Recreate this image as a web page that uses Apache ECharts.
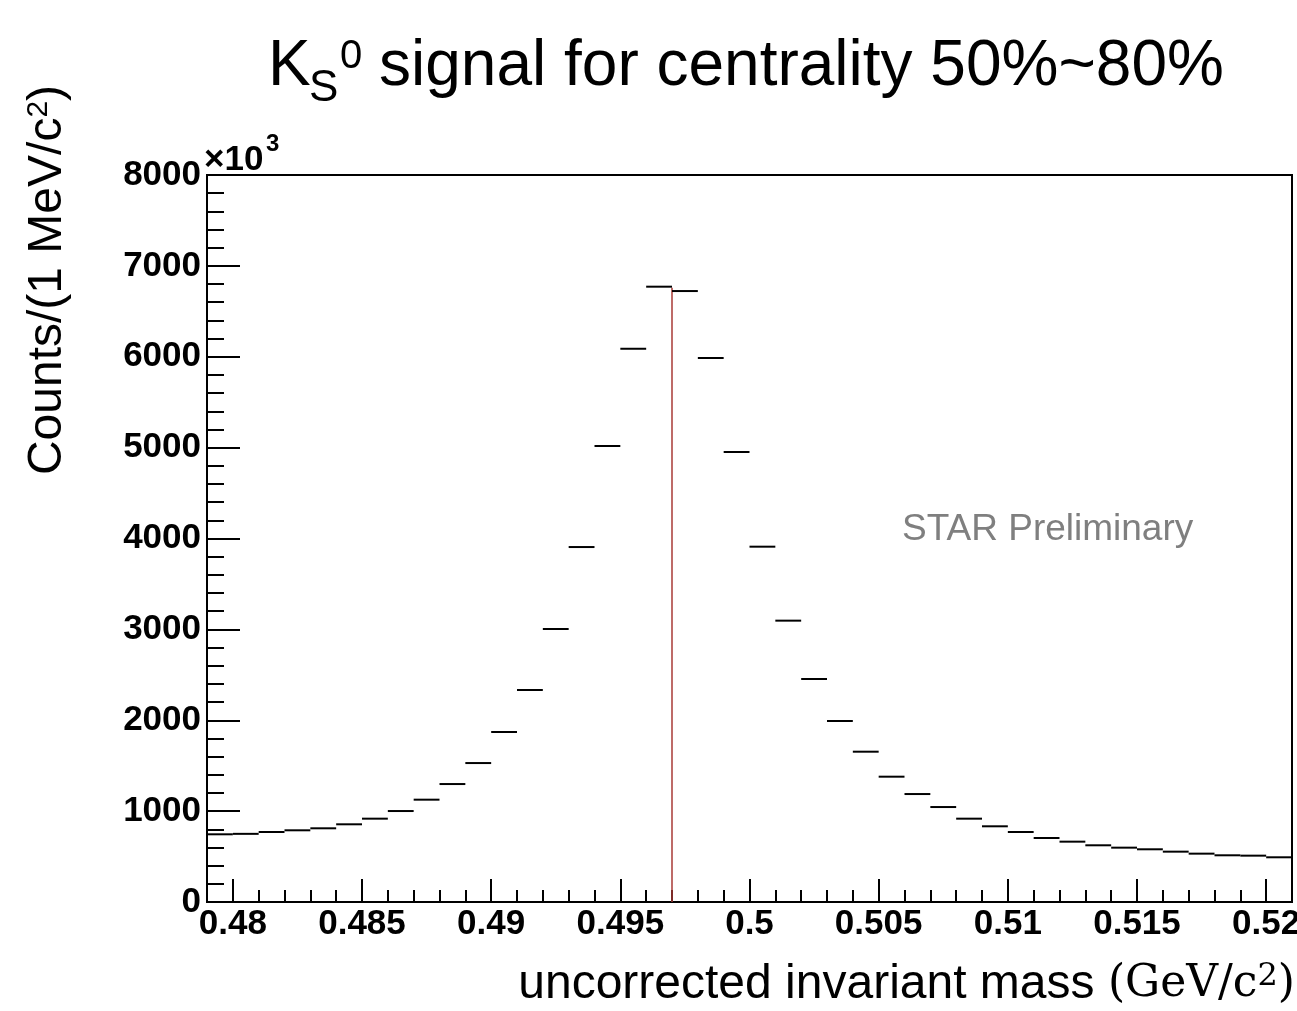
<!DOCTYPE html>
<html>
<head>
<meta charset="utf-8">
<script src="https://cdn.jsdelivr.net/npm/echarts@6/dist/echarts.min.js"></script>
<style>
html,body{margin:0;padding:0;background:#fff;}
#chart{width:1297px;height:1011px;}
</style>
</head>
<body>
<div id="chart"></div>
<script>
// Lower bin edges (GeV/c^2), 1 MeV bins
const massLow = [0.479, 0.480, 0.481, 0.482, 0.483, 0.484, 0.485, 0.486, 0.487, 0.488,
                 0.489, 0.490, 0.491, 0.492, 0.493, 0.494, 0.495, 0.496, 0.497, 0.498,
                 0.499, 0.500, 0.501, 0.502, 0.503, 0.504, 0.505, 0.506, 0.507, 0.508,
                 0.509, 0.510, 0.511, 0.512, 0.513, 0.514, 0.515, 0.516, 0.517, 0.518,
                 0.519, 0.520];
const BIN_WIDTH = 0.001;
// Counts per bin (x10^3)
const counts = [745, 750, 770, 789, 811, 855, 917, 1001, 1126, 1298,
                1529, 1871, 2333, 3004, 3906, 5018, 6088, 6771, 6723, 5986,
                4952, 3910, 3096, 2454, 1992, 1654, 1379, 1188, 1045, 917,
                833, 770, 704, 664, 624, 598, 580, 554, 532, 514,
                510, 492];
// Red reference line (mass, top value)
const peakLineMass = 0.497;
const peakLineTop = 6760;

const majorTicks = [0.48, 0.485, 0.49, 0.495, 0.5, 0.505, 0.51, 0.515, 0.52];
const majorTickLabels = ['0.48', '0.485', '0.49', '0.495', '0.5', '0.505', '0.51', '0.515', '0.52'];
const yTickValues = [0, 1000, 2000, 3000, 4000, 5000, 6000, 7000, 8000];
const yTickLabels = ['0', '1000', '2000', '3000', '4000', '5000', '6000', '7000', '8000'];

const minorTicks = [];
for (let k = 480; k <= 520; k++) {
  if (k % 5 !== 0) minorTicks.push(k / 1000);
}

const histData = massLow.map((lo, i) => [lo, +(lo + BIN_WIDTH).toFixed(3), counts[i]]);

const FONT = 'Liberation Sans, Arial, sans-serif';
const SERIF = 'DejaVu Serif, Liberation Serif, serif';

function xLabel(v) {
  for (let i = 0; i < majorTicks.length; i++) {
    if (Math.abs(majorTicks[i] - v) < 1e-9) return majorTickLabels[i];
  }
  return '';
}
function yLabel(v) {
  for (let i = 0; i < yTickValues.length; i++) {
    if (Math.abs(yTickValues[i] - v) < 1e-6) return yTickLabels[i];
  }
  return '';
}

const chart = echarts.init(document.getElementById('chart'), null, {renderer: 'canvas'});
const option = {
  animation: false,
  backgroundColor: '#fff',
  textStyle: {fontFamily: FONT},
  grid: {
    left: 207, right: 5, top: 175, bottom: 109,
    outerBoundsMode: 'none',
    containLabel: false,
    show: true, borderColor: '#000', borderWidth: 2, backgroundColor: 'transparent'
  },
  xAxis: [{
    type: 'value', min: 0.479, max: 0.521,
    position: 'bottom',
    axisLine: {show: true, onZero: false, lineStyle: {color: '#000', width: 2}},
    axisTick: {show: true, inside: true, length: 23, customValues: majorTicks, lineStyle: {color: '#000', width: 2}},
    axisLabel: {show: true, customValues: majorTicks, formatter: xLabel, color: '#000', fontSize: 35, fontWeight: 'bold', fontFamily: FONT, margin: 5, hideOverlap: false},
    splitLine: {show: false}
  }, {
    type: 'value', min: 0.479, max: 0.521,
    position: 'bottom',
    axisLine: {show: false, onZero: false},
    axisTick: {show: true, inside: true, length: 12, customValues: minorTicks, lineStyle: {color: '#000', width: 2}},
    axisLabel: {show: false},
    splitLine: {show: false}
  }],
  yAxis: {
    type: 'value', min: 0, max: 8000, interval: 1000,
    axisLine: {show: true, onZero: false, lineStyle: {color: '#000', width: 2}},
    axisTick: {show: true, inside: true, length: 33, lineStyle: {color: '#000', width: 2}},
    minorTick: {show: true, splitNumber: 5, length: 17, lineStyle: {color: '#000', width: 2}},
    axisLabel: {formatter: yLabel, color: '#000', fontSize: 35, fontWeight: 'bold', fontFamily: FONT, margin: 6},
    splitLine: {show: false},
    minorSplitLine: {show: false}
  },
  series: [{
    type: 'custom',
    xAxisIndex: 0,
    data: histData,
    encode: {x: [0, 1], y: 2},
    renderItem: function (params, api) {
      const p0 = api.coord([api.value(0), api.value(2)]);
      const p1 = api.coord([api.value(1), api.value(2)]);
      return {
        type: 'line',
        shape: {x1: p0[0], y1: p0[1], x2: p1[0], y2: p1[1]},
        style: {stroke: '#000', lineWidth: 2}
      };
    },
    z: 3
  }, {
    type: 'line',
    xAxisIndex: 0,
    data: [[peakLineMass, 0], [peakLineMass, peakLineTop]],
    symbol: 'none',
    lineStyle: {color: '#a83a36', width: 1.5},
    z: 2
  }],
  graphic: [
    // Title pieces
    {type: 'text', x: 268, y: 67, style: {text: 'K', font: '64px ' + FONT, fill: '#000', textAlign: 'left', textVerticalAlign: 'middle'}},
    {type: 'text', x: 309, y: 89, style: {text: 'S', font: '44px ' + FONT, fill: '#000', textAlign: 'left', textVerticalAlign: 'middle'}},
    {type: 'text', x: 340, y: 57, style: {text: '0', font: '40px ' + FONT, fill: '#000', textAlign: 'left', textVerticalAlign: 'middle'}},
    {type: 'text', x: 379, y: 67, style: {text: 'signal for centrality 50%~80%', font: '64px ' + FONT, fill: '#000', textAlign: 'left', textVerticalAlign: 'middle'}},
    // x10^3
    {type: 'text', x: 204, y: 160, style: {text: '×10', font: 'bold 35px ' + FONT, fill: '#000', textAlign: 'left', textVerticalAlign: 'middle'}},
    {type: 'text', x: 266, y: 144, style: {text: '3', font: 'bold 24px ' + FONT, fill: '#000', textAlign: 'left', textVerticalAlign: 'middle'}},
    // Y axis title
    {type: 'text', x: 48, y: 280, rotation: Math.PI / 2, style: {
      text: '{a|Counts/(1 MeV/c}{b|2}{a|)}', textAlign: 'center', textVerticalAlign: 'middle',
      rich: {
        a: {fontSize: 48, fontFamily: FONT, fill: '#000'},
        b: {fontSize: 30, fontFamily: FONT, fill: '#000', verticalAlign: 'top'}
      }
    }},
    // X axis title
    {type: 'text', x: 1295, y: 985, style: {
      text: '{a|uncorrected invariant mass }{c|(GeV/c}{d|2}{c|)}', textAlign: 'right', textVerticalAlign: 'middle',
      rich: {
        a: {fontSize: 48, fontFamily: FONT, fill: '#000'},
        c: {fontSize: 44, fontFamily: SERIF, fill: '#000'},
        d: {fontSize: 32, fontFamily: SERIF, fill: '#000', verticalAlign: 'top'}
      }
    }},
    // STAR Preliminary
    {type: 'text', x: 902, y: 530, style: {text: 'STAR Preliminary', font: '37px ' + FONT, fill: '#7f7f7f', textAlign: 'left', textVerticalAlign: 'middle'}}
  ]
};
chart.setOption(option);
</script>
</body>
</html>
